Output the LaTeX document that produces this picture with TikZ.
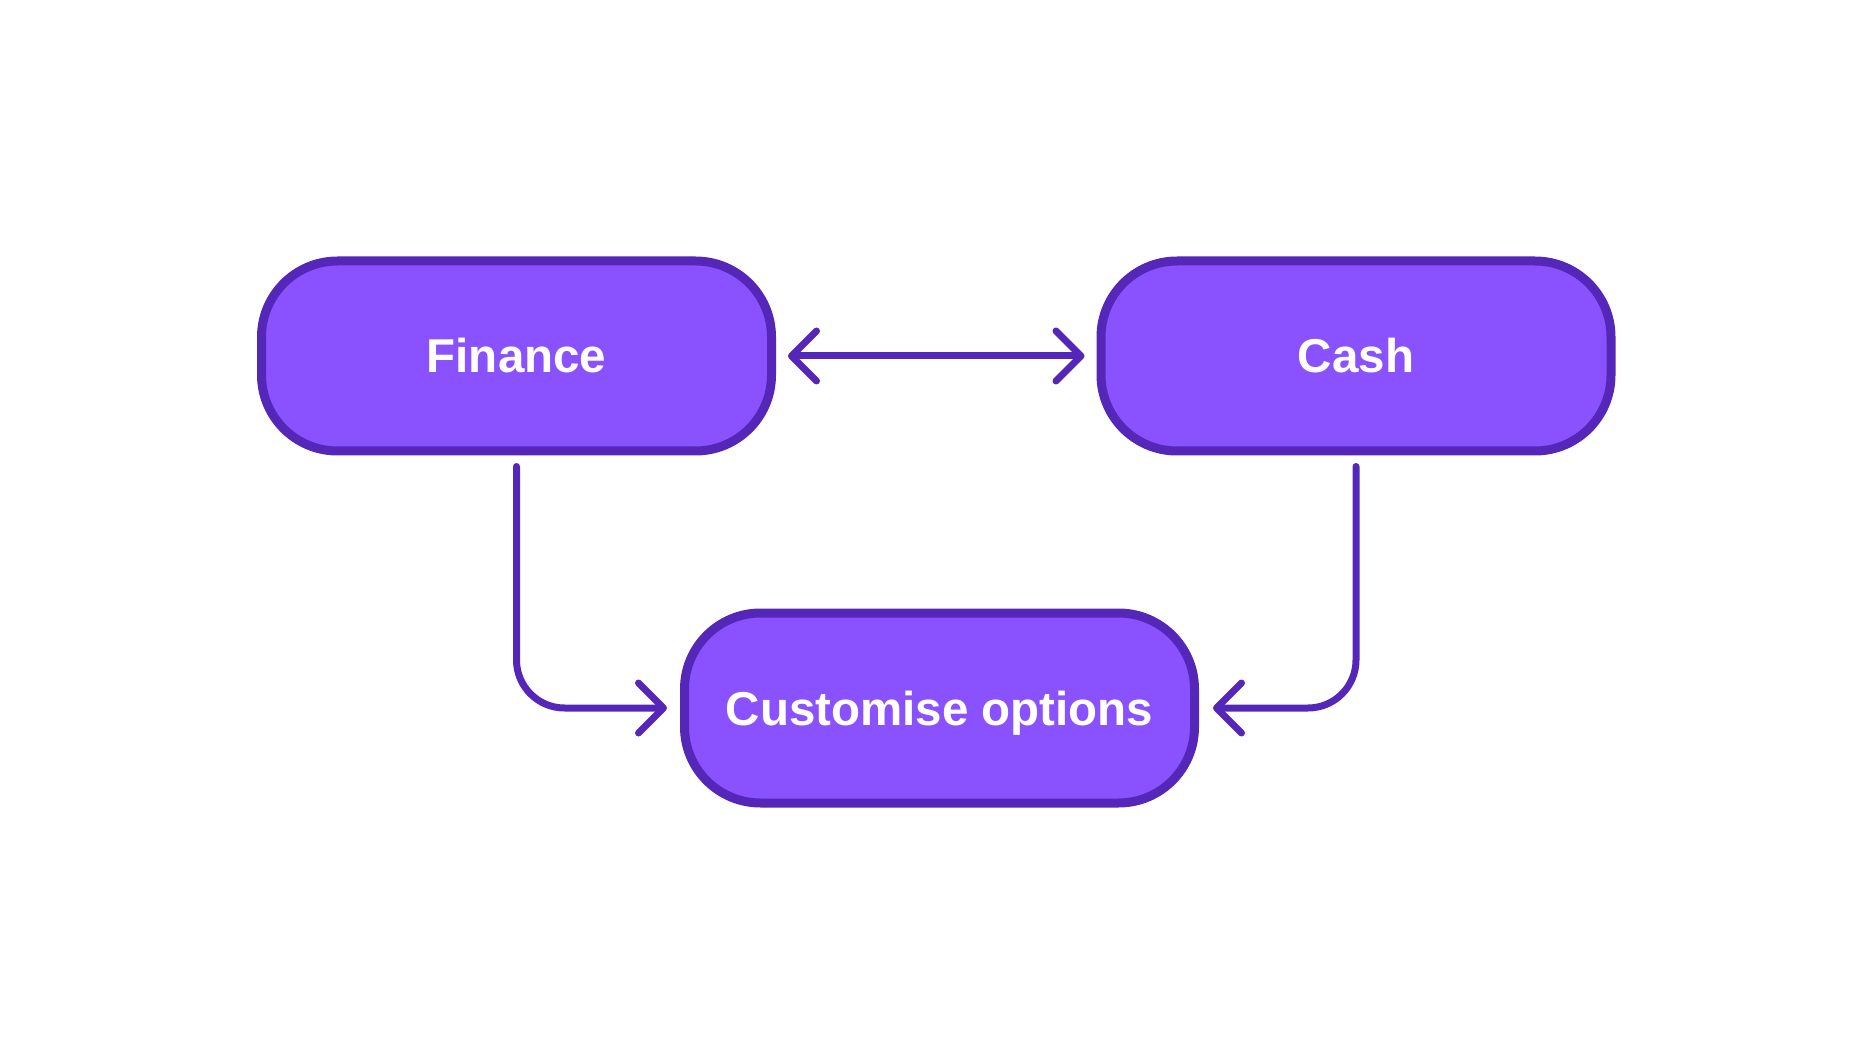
\documentclass[tikz,border=0pt]{standalone}
\usepackage{fontspec}
\setmainfont{Liberation Sans}
\usetikzlibrary{arrows.meta}

\definecolor{boxfill}{HTML}{8A52FF}
\definecolor{boxline}{HTML}{5427B8}

\begin{document}
\begin{tikzpicture}[x=1pt, y=-1pt,
    optbox/.style={draw=boxline, fill=boxfill, line width=9pt, rounded corners=76pt,
      minimum width=510pt, minimum height=190pt, text=white,
      text height=34pt, text depth=0pt,
      font=\fontsize{47.5}{52}\selectfont\bfseries},
    link/.style={draw=boxline, line width=7pt, line cap=round, line join=round},
    >={Straight Barb[length=25pt, width=50pt, line cap=round, line join=round]}]

  \useasboundingbox (0,0) rectangle (1872,1064);

  \node[optbox] (finance) at (516.5,356) {Finance};
  \node[optbox] (cash) at (1356,356) {Cash};
  \node[optbox] (custom) at (939.5,708) {Customise options};

  \draw[link, <->, shorten <=12pt, shorten >=12pt] (finance) -- (cash);
  \draw[link, ->, rounded corners=48pt, shorten <=11pt, shorten >=13pt] (finance.south) |- (custom.west);
  \draw[link, ->, rounded corners=48pt, shorten <=11pt, shorten >=14pt] (cash.south) |- (custom.east);

\end{tikzpicture}
\end{document}
